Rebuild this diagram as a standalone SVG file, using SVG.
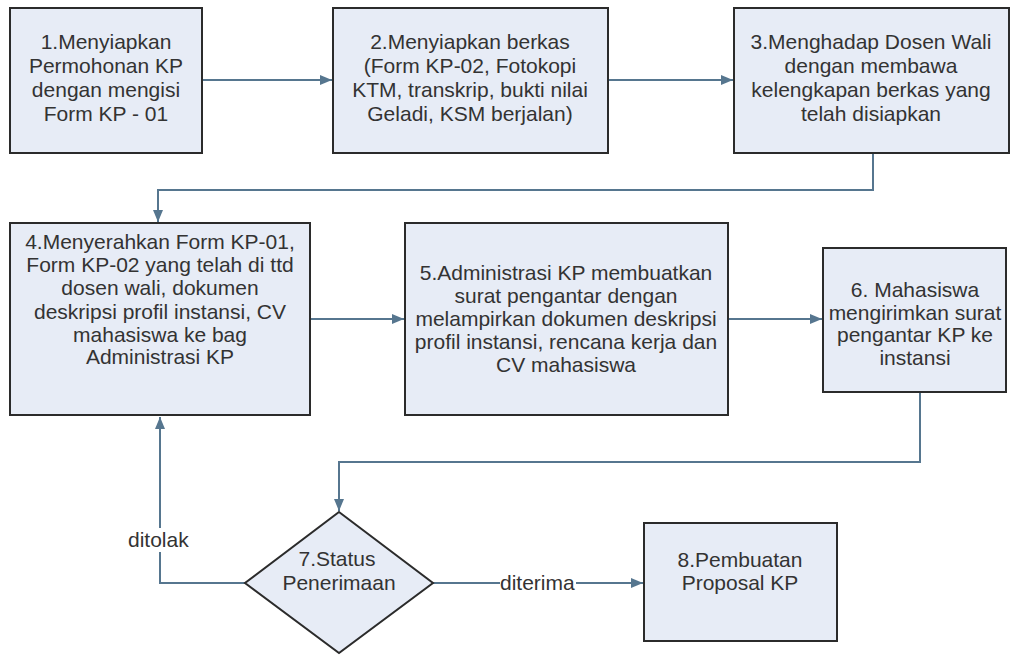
<svg xmlns="http://www.w3.org/2000/svg" width="1012" height="655" viewBox="0 0 1012 655">
<defs>
<style>
.box{fill:#e7ecf6;stroke:#2b2b2b;stroke-width:2}
.t{font-family:"Liberation Sans",Arial,sans-serif;font-size:21px;fill:#333;text-anchor:middle}
.lbl{font-family:"Liberation Sans",Arial,sans-serif;font-size:21px;fill:#333}
.c{fill:none;stroke:#56768f;stroke-width:2}
</style>
<marker id="ah" viewBox="0 0 12 10" refX="12" refY="5" markerWidth="12" markerHeight="10" markerUnits="userSpaceOnUse" orient="auto">
<path d="M0,0 L12,5 L0,10 z" fill="#56768f"/>
</marker>
</defs>
<rect width="1012" height="655" fill="#fff"/>
<g id="connectors">
<path class="c" d="M202,80 H332" marker-end="url(#ah)"/>
<path class="c" d="M608,80 H733" marker-end="url(#ah)"/>
<path class="c" d="M873,153 V190 H158 V222" marker-end="url(#ah)"/>
<path class="c" d="M310,319 H404" marker-end="url(#ah)"/>
<path class="c" d="M728,319 H822" marker-end="url(#ah)"/>
<path class="c" d="M920,392 V462 H339 V511" marker-end="url(#ah)"/>
<path class="c" d="M245,583 H160 V417" marker-end="url(#ah)"/>
<path class="c" d="M433,583 H643" marker-end="url(#ah)"/>
<rect x="126" y="528" width="66" height="24" fill="#fff"/>
<text class="lbl" x="128" y="547">ditolak</text>
<rect x="500" y="572" width="76" height="22" fill="#fff"/>
<text class="lbl" x="500" y="590">diterima</text>
</g>
<g id="node1">
<rect class="box" x="10" y="8" width="192" height="145"/>
<text class="t"><tspan x="106" y="49">1.Menyiapkan</tspan><tspan x="106" y="73">Permohonan KP</tspan><tspan x="106" y="97">dengan mengisi</tspan><tspan x="106" y="121">Form KP - 01</tspan></text>
</g>
<g id="node2">
<rect class="box" x="333" y="8" width="275" height="145"/>
<text class="t"><tspan x="470" y="49">2.Menyiapkan berkas</tspan><tspan x="470" y="73">(Form KP-02, Fotokopi</tspan><tspan x="470" y="97">KTM, transkrip, bukti nilai</tspan><tspan x="470" y="121">Geladi, KSM berjalan)</tspan></text>
</g>
<g id="node3">
<rect class="box" x="734" y="8" width="275" height="145"/>
<text class="t"><tspan x="871" y="49">3.Menghadap Dosen Wali</tspan><tspan x="871" y="73">dengan membawa</tspan><tspan x="871" y="97">kelengkapan berkas yang</tspan><tspan x="871" y="121">telah disiapkan</tspan></text>
</g>
<g id="node4">
<rect class="box" x="10" y="223" width="300" height="192"/>
<text class="t"><tspan x="160" y="249">4.Menyerahkan Form KP-01,</tspan><tspan x="160" y="272">Form KP-02 yang telah di ttd</tspan><tspan x="160" y="295">dosen wali, dokumen</tspan><tspan x="160" y="319">deskripsi profil instansi, CV</tspan><tspan x="160" y="342">mahasiswa ke bag</tspan><tspan x="160" y="364">Administrasi KP</tspan></text>
</g>
<g id="node5">
<rect class="box" x="405" y="223" width="323" height="192"/>
<text class="t"><tspan x="566" y="280">5.Administrasi KP membuatkan</tspan><tspan x="566" y="303">surat pengantar dengan</tspan><tspan x="566" y="326">melampirkan dokumen deskripsi</tspan><tspan x="566" y="349">profil instansi, rencana kerja dan</tspan><tspan x="566" y="372">CV mahasiswa</tspan></text>
</g>
<g id="node6">
<rect class="box" x="823" y="248" width="183" height="144"/>
<text class="t"><tspan x="915" y="297">6. Mahasiswa</tspan><tspan x="915" y="320">mengirimkan surat</tspan><tspan x="915" y="342">pengantar KP ke</tspan><tspan x="915" y="365">instansi</tspan></text>
</g>
<g id="node7">
<polygon class="box" points="339,512 433,583 339,653 245,583"/>
<text class="t"><tspan x="337" y="566">7.Status</tspan><tspan x="339" y="590">Penerimaan</tspan></text>
</g>
<g id="node8">
<rect class="box" x="644" y="523" width="193" height="118"/>
<text class="t"><tspan x="740" y="567">8.Pembuatan</tspan><tspan x="740" y="590">Proposal KP</tspan></text>
</g>
</svg>
